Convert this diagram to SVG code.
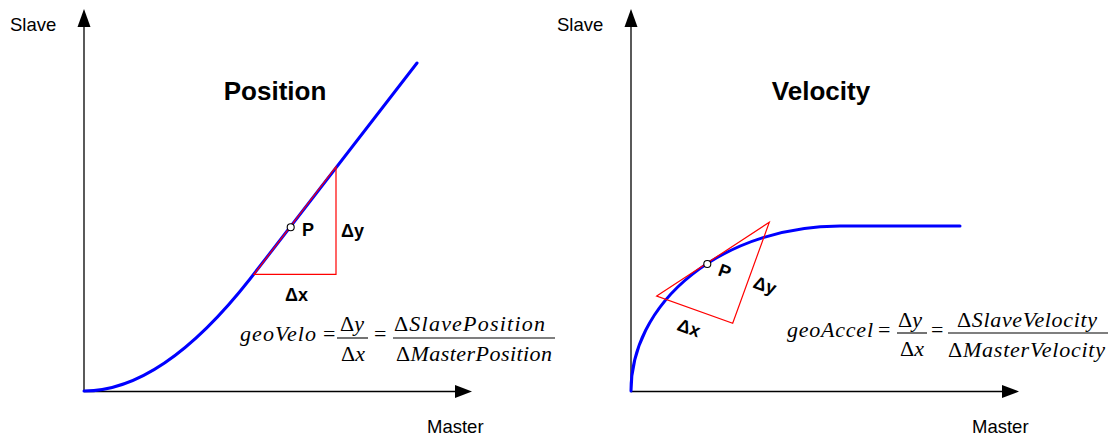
<svg xmlns="http://www.w3.org/2000/svg" width="1111" height="436" viewBox="0 0 1111 436">
<style>
.axis{stroke:#000;stroke-width:1.3;fill:none}
.head{fill:#000;stroke:none}
.curve{stroke:#0000ff;stroke-width:3;fill:none;stroke-linecap:round;stroke-linejoin:round}
.tri{stroke:#ff0000;stroke-width:1.2;fill:none}
.pt{fill:#fff;stroke:#000;stroke-width:1.1}
.lbl{font-family:"Liberation Sans",Arial,sans-serif;font-size:18.5px;fill:#000}
.title{font-family:"Liberation Sans",Arial,sans-serif;font-size:26px;font-weight:bold;fill:#000}
.tlab{font-family:"Liberation Sans",Arial,sans-serif;font-size:18px;font-weight:bold;fill:#000}
.eq{font-family:"Liberation Serif","Times New Roman",serif;font-size:22px;font-style:italic;fill:#000}
.up{font-style:normal}
.bar{stroke:#000;stroke-width:1.1}
</style>
<rect width="1111" height="436" fill="#fff"/>
<g id="left-axes">
<line class="axis" x1="84" y1="392" x2="84" y2="24"/>
<polygon class="head" points="84,9 77.5,27 90.5,27"/>
<line class="axis" x1="84" y1="391.5" x2="458" y2="391.5"/>
<polygon class="head" points="472,391.5 455,385 455,398"/>
<text class="lbl" x="10" y="31">Slave</text>
<text class="lbl" x="427" y="433">Master</text>
</g>
<g id="position-plot">
<text class="title" x="275" y="100" text-anchor="middle">Position</text>
<path class="curve" d="M84,391 Q162,391 250,279 L417,63"/>
<polygon class="tri" points="254,274.3 336,274.3 336,166.7"/>
<circle class="pt" cx="290.7" cy="227.3" r="3.5"/>
<text class="tlab" x="302" y="236">P</text>
<text class="tlab" x="341" y="237">Δy</text>
<text class="tlab" x="285" y="301">Δx</text>
</g>
<g id="position-formula">
<text class="eq" x="240" y="341" textLength="76" lengthAdjust="spacing">geoVelo</text>
<text class="eq up" x="323" y="341">=</text>
<text class="eq" x="340" y="331"><tspan class="up">Δ</tspan>y</text>
<line class="bar" x1="337" y1="338" x2="368" y2="338"/>
<text class="eq" x="341" y="361"><tspan class="up">Δ</tspan>x</text>
<text class="eq up" x="374" y="341">=</text>
<line class="bar" x1="393" y1="338" x2="555" y2="338"/>
<text class="eq" x="394" y="331" textLength="151" lengthAdjust="spacing"><tspan class="up">Δ</tspan>SlavePosition</text>
<text class="eq" x="396" y="361" textLength="156" lengthAdjust="spacing"><tspan class="up">Δ</tspan>MasterPosition</text>
</g>
<g id="right-axes">
<line class="axis" x1="631" y1="392" x2="631" y2="24"/>
<polygon class="head" points="631,9 624.5,27 637.5,27"/>
<line class="axis" x1="631" y1="391.5" x2="1005" y2="391.5"/>
<polygon class="head" points="1019,391.5 1002,385 1002,398"/>
<text class="lbl" x="557" y="31">Slave</text>
<text class="lbl" x="972" y="433">Master</text>
</g>
<g id="velocity-plot">
<text class="title" x="821" y="100" text-anchor="middle">Velocity</text>
<path class="curve" d="M631,391 A209,165 0 0 1 840,226 L960,226"/>
<polygon class="tri" points="656.7,296 769.3,222.3 732.7,323.3"/>
<circle class="pt" cx="707.3" cy="264" r="3.5"/>
<text class="tlab" x="725" y="277.5" text-anchor="middle" transform="rotate(20 725 271)">P</text>
<text class="tlab" x="765" y="291.5" text-anchor="middle" transform="rotate(20 765 285)">Δy</text>
<text class="tlab" x="689" y="334" text-anchor="middle" transform="rotate(20 689 327.5)">Δx</text>
</g>
<g id="velocity-formula">
<text class="eq" x="787" y="337" textLength="86" lengthAdjust="spacing">geoAccel</text>
<text class="eq up" x="878" y="337">=</text>
<text class="eq" x="898" y="327"><tspan class="up">Δ</tspan>y</text>
<line class="bar" x1="897" y1="333" x2="927" y2="333"/>
<text class="eq" x="900" y="356"><tspan class="up">Δ</tspan>x</text>
<text class="eq up" x="931" y="337">=</text>
<line class="bar" x1="948" y1="333" x2="1108" y2="333"/>
<text class="eq" x="957" y="327" textLength="140" lengthAdjust="spacing"><tspan class="up">Δ</tspan>SlaveVelocity</text>
<text class="eq" x="948" y="357" textLength="157" lengthAdjust="spacing"><tspan class="up">Δ</tspan>MasterVelocity</text>
</g>
</svg>
